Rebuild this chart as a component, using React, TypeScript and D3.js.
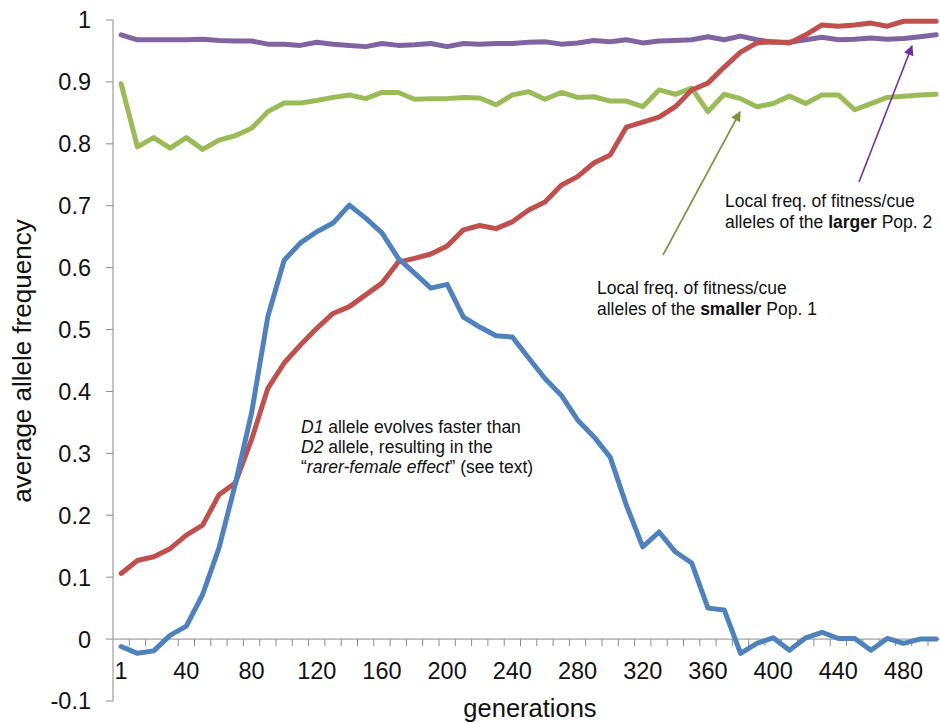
import React from "react";
import * as d3 from "d3";

// Generations sampled along the x axis (category axis)
const generations = [
  1, 10, 20, 30, 40, 50, 60, 70, 80, 90, 100, 110, 120, 130, 140, 150, 160,
  170, 180, 190, 200, 210, 220, 230, 240, 250, 260, 270, 280, 290, 300, 310,
  320, 330, 340, 350, 360, 370, 380, 390, 400, 410, 420, 430, 440, 450, 460,
  470, 480, 490, 500,
];

// D1 allele (blue)
const d1Allele = [
  -0.012, -0.023, -0.019, 0.006, 0.021, 0.072, 0.147, 0.25, 0.365, 0.521,
  0.612, 0.64, 0.658, 0.672, 0.701, 0.68, 0.656, 0.615, 0.591, 0.567,
  0.573, 0.52, 0.504, 0.49, 0.488, 0.454, 0.421, 0.394, 0.354, 0.327,
  0.294, 0.216, 0.149, 0.173, 0.141, 0.123, 0.05, 0.047, -0.023, -0.007,
  0.002, -0.018, 0.002, 0.011, 0.001, 0.001, -0.018, 0.001, -0.007, 0, 0,
];

// D2 allele (red)
const d2Allele = [
  0.106, 0.127, 0.133, 0.146, 0.168, 0.184, 0.233, 0.252, 0.322, 0.405,
  0.446, 0.475, 0.502, 0.526, 0.537, 0.556, 0.575, 0.609, 0.615, 0.622,
  0.635, 0.661, 0.668, 0.663, 0.674, 0.693, 0.706, 0.733, 0.747, 0.769,
  0.782, 0.827, 0.835, 0.843, 0.86, 0.887, 0.898, 0.924, 0.948, 0.963,
  0.965, 0.963, 0.976, 0.992, 0.99, 0.992, 0.995, 0.99, 0.998, 0.998, 0.998,
];

// Local fitness/cue allele frequency, larger Pop. 2 (purple)
const pop2Local = [
  0.976, 0.968, 0.968, 0.968, 0.968, 0.969, 0.967, 0.966, 0.966, 0.961,
  0.961, 0.959, 0.964, 0.961, 0.959, 0.957, 0.962, 0.959, 0.96, 0.962,
  0.957, 0.962, 0.961, 0.962, 0.962, 0.964, 0.965, 0.961, 0.963, 0.967,
  0.965, 0.968, 0.963, 0.966, 0.967, 0.968, 0.973, 0.968, 0.974, 0.968,
  0.964, 0.964, 0.968, 0.972, 0.968, 0.969, 0.971, 0.969, 0.97, 0.973, 0.976,
];

// Local fitness/cue allele frequency, smaller Pop. 1 (green)
const pop1Local = [
  0.897, 0.795, 0.81, 0.793, 0.81, 0.791, 0.806, 0.813, 0.825, 0.852,
  0.866, 0.866, 0.87, 0.875, 0.879, 0.873, 0.883, 0.883, 0.872, 0.873,
  0.873, 0.875, 0.874, 0.863, 0.879, 0.884, 0.872, 0.883, 0.875, 0.876,
  0.869, 0.869, 0.86, 0.887, 0.88, 0.89, 0.852, 0.88, 0.873, 0.86,
  0.865, 0.877, 0.865, 0.879, 0.879, 0.855, 0.865, 0.875, 0.877, 0.879, 0.88,
];

const yTicks = [-0.1, 0, 0.1, 0.2, 0.3, 0.4, 0.5, 0.6, 0.7, 0.8, 0.9, 1];
const xTickLabels = [1, 40, 80, 120, 160, 200, 240, 280, 320, 360, 400, 440, 480];

const series = [
  { name: "pop2", values: pop2Local, color: "#8064A2" },
  { name: "pop1", values: pop1Local, color: "#9BBB59" },
  { name: "d2", values: d2Allele, color: "#C0504D" },
  { name: "d1", values: d1Allele, color: "#4F81BD" },
];

const W = 940;
const H = 723;
const FONT = "'Liberation Sans', Arial, sans-serif";

export default function App() {
  const axisX = 113;
  const bandW = 16.3;
  const x = d3
    .scaleBand<number>()
    .domain(generations)
    .range([axisX, axisX + bandW * generations.length])
    .paddingInner(0)
    .paddingOuter(0);
  const y = d3.scaleLinear().domain([-0.1, 1]).range([701, 20]);
  const cx = (g: number) => (x(g) as number) + x.bandwidth() / 2;

  const line = d3
    .line<number>()
    .x((_, i) => cx(generations[i]))
    .y((v) => y(v));

  const axisColor = "#8a8a8a";
  const y0 = y(0);

  return (
    <svg
      width={W}
      height={H}
      style={{ position: "absolute", left: 0, top: 0, background: "#fff" }}
      fontFamily={FONT}
    >
      <defs>
        <marker id="arrowGreen" viewBox="0 0 10 10" refX="9" refY="5" markerWidth="12" markerHeight="10" orient="auto" markerUnits="userSpaceOnUse">
          <path d="M0,0 L10,5 L0,10 Z" fill="#77933C" />
        </marker>
        <marker id="arrowPurple" viewBox="0 0 10 10" refX="9" refY="5" markerWidth="12" markerHeight="10" orient="auto" markerUnits="userSpaceOnUse">
          <path d="M0,0 L10,5 L0,10 Z" fill="#7030A0" />
        </marker>
      </defs>

      {/* y axis */}
      <line x1={axisX} x2={axisX} y1={y(1)} y2={y(-0.1)} stroke={axisColor} strokeWidth={1} />
      {yTicks.map((t) => (
        <g key={t}>
          <line x1={axisX - 7} x2={axisX} y1={y(t)} y2={y(t)} stroke={axisColor} strokeWidth={1} />
          <text x={91} y={y(t)} dy="0.36em" textAnchor="end" fontSize={23.5} fill="#111">
            {t === 1 ? "1" : t === 0 ? "0" : t.toFixed(1)}
          </text>
        </g>
      ))}

      {/* x axis along zero */}
      <line x1={axisX} x2={W} y1={y0} y2={y0} stroke={axisColor} strokeWidth={1} />
      {generations.map((g) => (
        <line
          key={g}
          x1={(x(g) as number) + x.bandwidth()}
          x2={(x(g) as number) + x.bandwidth()}
          y1={y0}
          y2={y0 + 7}
          stroke={axisColor}
          strokeWidth={1}
        />
      ))}
      {xTickLabels.map((g) => (
        <text key={g} x={cx(g)} y={679} textAnchor="middle" fontSize={23.5} fill="#111">
          {g}
        </text>
      ))}

      {/* axis titles */}
      <text
        transform={`translate(31,361) rotate(-90)`}
        textAnchor="middle"
        fontSize={26}
        fill="#111"
      >
        average allele frequency
      </text>
      <text x={530} y={717} textAnchor="middle" fontSize={25.5} fill="#111">
        generations
      </text>

      {/* series */}
      {series.map((s) => (
        <path
          key={s.name}
          d={line(s.values) || ""}
          fill="none"
          stroke={s.color}
          strokeWidth={5}
          strokeLinejoin="round"
          strokeLinecap="round"
        />
      ))}

      {/* annotation: D1 vs D2 */}
      <g fontSize={17.5} fill="#111">
        <text x={301} y={433}>
          <tspan fontStyle="italic">D1</tspan> allele evolves faster than
        </text>
        <text x={301} y={453}>
          <tspan fontStyle="italic">D2</tspan> allele, resulting in the
        </text>
        <text x={301} y={473}>
          “<tspan fontStyle="italic">rarer-female effect</tspan>” (see text)
        </text>
      </g>

      {/* annotation: smaller Pop. 1 */}
      <line x1={663} y1={255} x2={740} y2={112} stroke="#77933C" strokeWidth={1.6} markerEnd="url(#arrowGreen)" />
      <g fontSize={17.5} fill="#111">
        <text x={597} y={294}>Local freq. of fitness/cue</text>
        <text x={597} y={315}>
          alleles of the <tspan fontWeight="bold">smaller</tspan> Pop. 1
        </text>
      </g>

      {/* annotation: larger Pop. 2 */}
      <line x1={859} y1={182} x2={912} y2={46} stroke="#7030A0" strokeWidth={1.6} markerEnd="url(#arrowPurple)" />
      <g fontSize={17.5} fill="#111">
        <text x={725} y={207}>Local freq. of fitness/cue</text>
        <text x={725} y={228}>
          alleles of the <tspan fontWeight="bold">larger</tspan> Pop. 2
        </text>
      </g>
    </svg>
  );
}
